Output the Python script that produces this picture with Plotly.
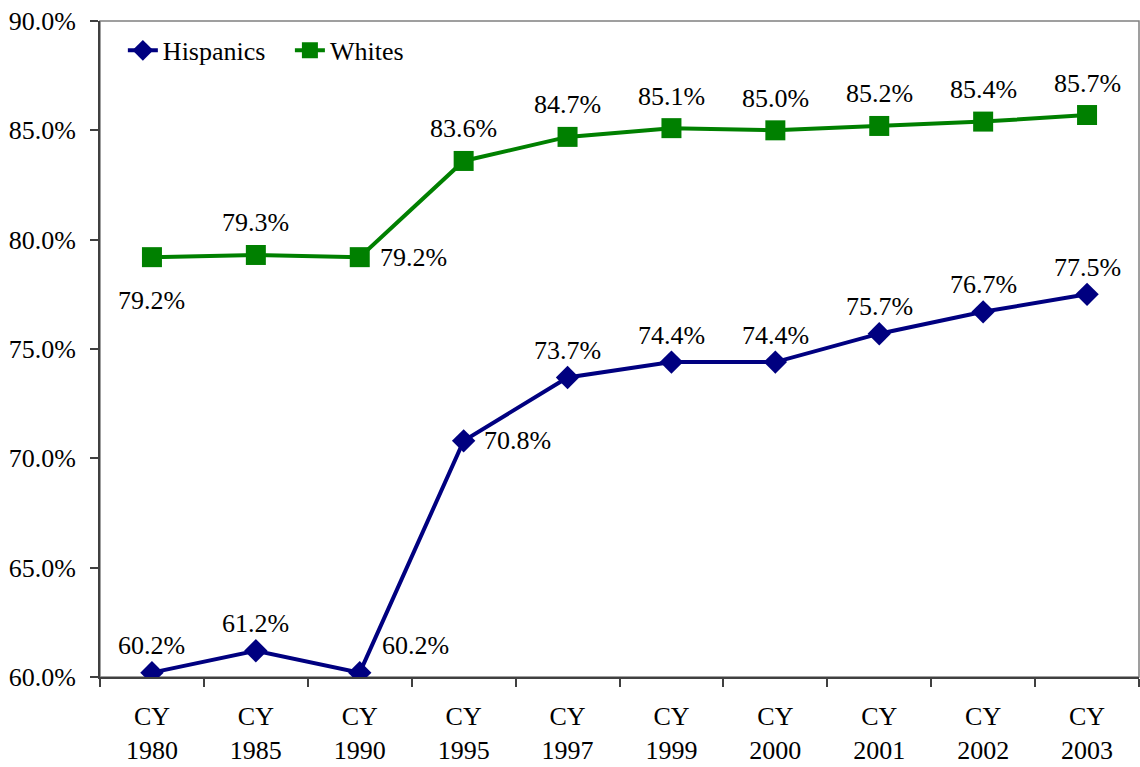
import plotly.graph_objects as go

categories = ["CY<br>1980", "CY<br>1985", "CY<br>1990", "CY<br>1995", "CY<br>1997",
              "CY<br>1999", "CY<br>2000", "CY<br>2001", "CY<br>2002", "CY<br>2003"]
hispanics = [60.2, 61.2, 60.2, 70.8, 73.7, 74.4, 74.4, 75.7, 76.7, 77.5]
whites = [79.2, 79.3, 79.2, 83.6, 84.7, 85.1, 85.0, 85.2, 85.4, 85.7]

# label placement (style only)
hisp_pos = ["above", "above", "upright", "right", "above", "above", "above", "above", "above", "above"]
white_pos = ["below", "above", "right", "above", "above", "above", "above", "above", "above", "above"]

FONT = "Liberation Serif, Times New Roman, serif"
FS = 26
NAVY = "#000080"
GREEN = "#008000"

fig = go.Figure()
fig.add_trace(go.Scatter(
    x=categories, y=hispanics, name="Hispanics   ", mode="lines+markers",
    line=dict(color=NAVY, width=4),
    marker=dict(symbol="diamond", size=18, color=NAVY),
))
fig.add_trace(go.Scatter(
    x=categories, y=whites, name="Whites", mode="lines+markers",
    line=dict(color=GREEN, width=4),
    marker=dict(symbol="square", size=20, color=GREEN),
))

def shifts(pos, up):
    if pos == "above":
        return 0, up
    if pos == "below":
        return 0, -43
    if pos == "right":
        return 54, 0
    if pos == "upright":
        return 56, 27
    return 0, 0

annotations = []
for series, poss, up in ((hispanics, hisp_pos, 27), (whites, white_pos, 32)):
    for c, v, p in zip(categories, series, poss):
        xs, ys = shifts(p, up)
        annotations.append(dict(
            x=c, y=v, xref="x", yref="y", text=f"{v:.1f}%", showarrow=False,
            xshift=xs, yshift=ys, font=dict(family=FONT, size=FS, color="black"),
        ))

fig.update_layout(
    width=1140, height=767,
    margin=dict(l=100, r=1, t=21, b=90),
    paper_bgcolor="white", plot_bgcolor="white",
    font=dict(family=FONT, size=FS, color="black"),
    showlegend=True,
    legend=dict(orientation="h", x=0.022, y=0.991, xanchor="left", yanchor="top",
                bgcolor="rgba(0,0,0,0)", font=dict(family=FONT, size=FS),
                itemwidth=30, tracegroupgap=0),
    annotations=annotations,
    shapes=[dict(type="rect", xref="paper", yref="paper", x0=0, x1=1, y0=0, y1=1,
                 line=dict(color="#808080", width=1.5), layer="below")],
)
fig.update_xaxes(
    type="category", range=[-0.5, 9.5], showgrid=False, zeroline=False,
    showline=True, linecolor="#404040", linewidth=2,
    ticks="outside", tickson="boundaries", ticklen=8, tickcolor="#404040", tickwidth=2,
    tickfont=dict(family=FONT, size=FS), ticklabelstandoff=15,
)
fig.update_yaxes(
    range=[60, 90], dtick=5, tick0=60, showgrid=False, zeroline=False,
    showline=True, linecolor="#404040", linewidth=2,
    ticks="outside", ticklen=8, tickcolor="#404040", tickwidth=2,
    tickformat=".1f", ticksuffix="%", tickfont=dict(family=FONT, size=FS),
    ticklabelstandoff=9,
)

fig.write_html("out.html")
